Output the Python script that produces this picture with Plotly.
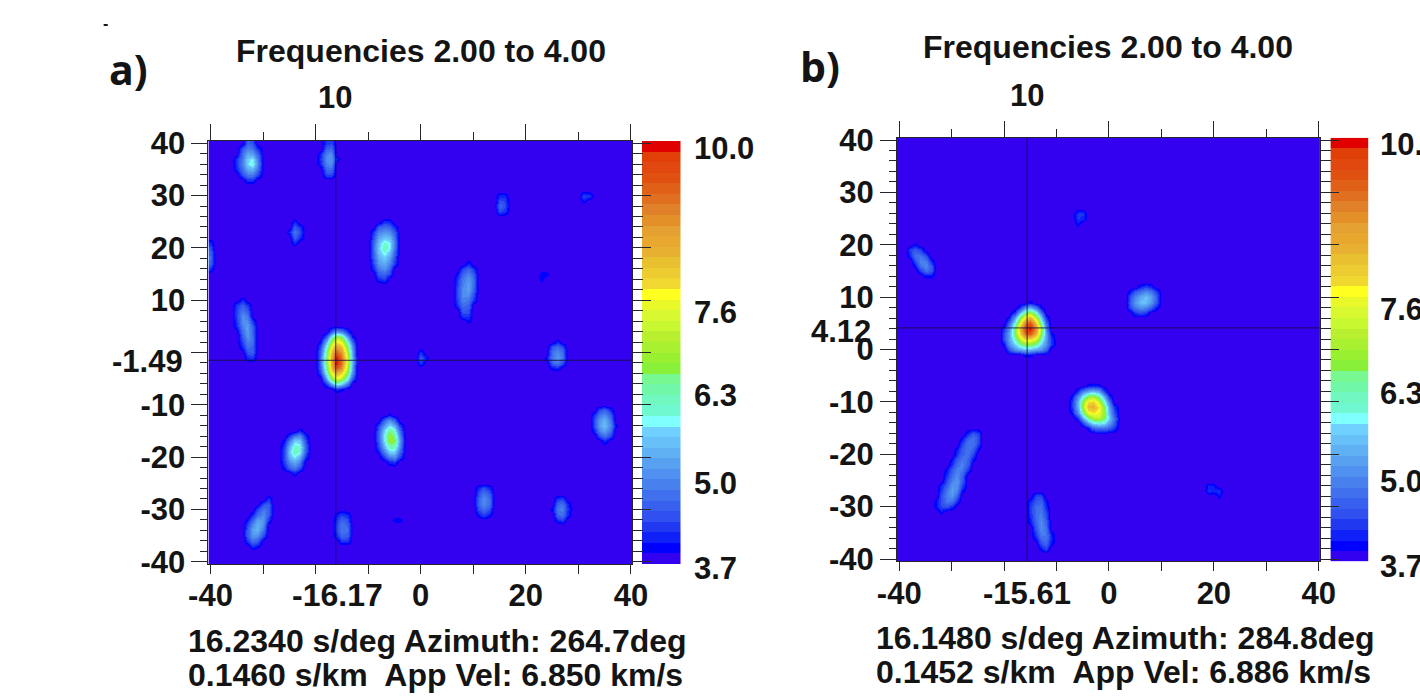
import numpy as np
import plotly.graph_objects as go

# ---------- values ----------
band_colors = ["#3400f0","#0000ff","#1020f8","#2038f0","#3050f0","#3860ee","#4070ee","#4880ee","#5090f0","#58a0f0",
               "#60b0f4","#68c0f8","#70d0ff","#80ffff","#70f8d0","#70f8c0","#70f8a8","#78f890","#88f038","#98f030",
               "#a8f030","#b8f030","#c8f830","#d8f830","#e8f828","#ffff20","#f0d830","#eccc30","#e8c030","#e8b030",
               "#e8a830","#e4a030","#e49028","#e08028","#e07020","#e06018","#e05010","#e04810","#e04008","#e00000"]
z_min = 3.7
z_max = 10.0
grid_x = list(range(-40, 41))
grid_y = list(range(40, -41, -1))
axis_ticks = [-40, -30, -20, -10, 0, 10, 20, 30, 40]
bar_tick_labels = ["10.0", "7.6", "6.3", "5.0", "3.7"]
title_text = "Frequencies 2.00 to 4.00"
top_label = "10"

left_labels_a = ["-40", "-30", "-20", "-10", "", "10", "20", "30", "40"]
left_labels_b = ["-40", "-30", "-20", "-10", "0", "10", "20", "30", "40"]
bottom_labels = ["-40", "", "", "", "0", "", "20", "", "40"]
cross_a = (-16.17, -1.49)
cross_b = (-15.61, 4.12)
stats_a = ["16.2340 s/deg Azimuth: 264.7deg", "0.1460 s/km  App Vel: 6.850 km/s"]
stats_b = ["16.1480 s/deg Azimuth: 284.8deg", "0.1452 s/km  App Vel: 6.886 km/s"]

# Patches of cell values (tenths), as (first x, first y, rows going down). Everything else is 3.7.
patches_a = [
 (-35, 40, [[37,37,46,44,37,37],[37,45,49,48,42,37],[37,47,53,52,46,37],[42,48,56,58,49,37],[42,49,57,60,50,37],[41,47,53,54,48,37],[37,44,48,48,43,37],[37,37,42,42,37,37]]),
 (-19, 40, [[37,42,43,37],[37,46,47,37],[41,49,50,37],[42,50,51,41],[41,49,50,37],[37,47,47,37],[37,43,43,37]]),
 (-25, 25, [[37,41,37],[37,45,42],[41,48,44],[37,46,42],[37,41,37]]),
 (-40, 21, [[41,37],[44,37],[46,37],[47,37],[45,37],[41,37]]),
 (-10, 25, [[37,37,37,42,41,37,37],[37,37,45,47,46,41,37],[37,42,49,51,50,45,37],[37,44,52,55,54,47,37],[37,46,55,60,58,49,37],[37,47,56,62,58,48,37],[37,46,55,59,55,46,37],[37,45,53,56,52,44,37],[37,43,51,53,49,42,37],[37,41,48,50,46,37,37],[37,37,45,46,43,37,37],[37,37,41,43,37,37,37]]),
 (14, 31, [[37,37,37,37],[37,41,41,37],[37,44,43,37],[37,46,44,37],[37,44,42,37],[37,37,37,37]]),
 (30, 31, [[37,37,37,37],[37,43,42,37],[37,40,37,37]]),
 (6, 17, [[37,37,37,41,37,37],[37,37,43,46,42,37],[37,40,46,49,45,37],[37,42,48,51,47,37],[37,43,49,52,47,37],[37,44,50,52,46,37],[37,44,50,50,44,37],[37,43,49,48,42,37],[37,42,47,46,37,37],[37,37,45,44,37,37],[37,37,42,42,37,37],[37,37,37,40,37,37]]),
 (22, 15, [[37,40,40,37],[37,40,37,37]]),
 (-36, 10, [[37,37,41,37,37,37,37],[37,42,45,42,37,37,37],[37,43,48,45,37,37,37],[37,43,50,48,37,37,37],[37,42,50,50,42,37,37],[37,41,49,52,45,37,37],[37,37,47,52,46,37,37],[37,37,45,51,47,37,37],[37,37,43,49,47,37,37],[37,37,41,47,46,37,37],[37,37,37,44,45,37,37],[37,37,37,41,42,37,37]]),
 (-20, 5, [[37,37,37,37,37,37,37,37,37],[37,37,37,46,52,50,42,37,37],[37,37,46,60,70,66,52,40,37],[37,40,54,70,78,75,60,46,37],[37,44,60,76,86,82,66,50,37],[37,46,64,82,94,88,70,52,37],[37,47,66,84,100,92,72,53,37],[37,47,66,84,100,92,72,53,37],[37,46,64,82,94,88,70,52,37],[37,43,60,76,84,80,66,50,37],[37,37,52,66,74,70,58,44,37],[37,37,42,52,60,56,48,37,37],[37,37,37,37,42,40,37,37,37]]),
 (-1, 1, [[37,37,37],[37,42,37],[37,45,40],[37,42,37],[37,37,37]]),
 (24, 2, [[37,37,41,37,37],[37,45,47,44,37],[37,48,50,47,37],[40,48,51,48,37],[37,46,48,44,37],[37,40,41,37,37]]),
 (32, -10, [[37,37,37,37,37,37],[37,37,44,46,41,37],[37,42,48,50,45,37],[37,44,51,54,48,37],[37,44,52,55,49,40],[37,41,49,52,47,37],[37,37,44,47,43,37],[37,37,37,41,37,37]]),
 (-9, -12, [[37,37,37,40,37,37,37],[37,37,46,50,45,37,37],[37,43,52,58,54,43,37],[37,45,57,65,60,47,37],[37,46,59,68,64,50,37],[37,45,58,68,66,52,37],[37,43,54,62,62,50,37],[37,40,49,56,56,47,37],[37,37,43,49,50,43,37],[37,37,37,41,42,37,37]]),
 (-27, -15, [[37,37,37,37,41,37],[37,37,42,48,50,41],[37,40,49,56,56,44],[37,43,54,61,60,46],[37,44,56,62,59,45],[37,44,54,58,54,42],[37,43,50,53,49,37],[37,40,46,48,44,37],[37,37,37,41,37,37]]),
 (-35, -27, [[37,37,37,37,37,37,37,37],[37,37,37,37,37,37,42,37],[37,37,37,37,37,44,45,37],[37,37,37,37,43,48,46,37],[37,37,37,41,47,50,45,37],[37,37,40,46,52,51,42,37],[37,37,43,50,54,50,37,37],[37,37,45,52,54,47,37,37],[37,37,45,51,50,43,37,37],[37,37,42,47,45,37,37,37],[37,37,37,42,40,37,37,37]]),
 (-17, -30, [[37,37,37,37,37],[37,40,43,41,37],[37,42,46,44,37],[37,43,48,46,37],[37,43,48,47,37],[37,41,46,45,37],[37,37,42,42,37],[37,37,37,37,37]]),
 (-6, -31, [[37,37,37,37],[37,40,40,37],[37,37,37,37]]),
 (10, -25, [[37,37,37,37,37],[37,41,44,41,37],[37,44,48,45,37],[37,46,50,47,37],[37,46,50,47,37],[37,44,47,44,37],[37,40,43,40,37],[37,37,37,37,37]]),
 (25, -27, [[37,37,37,37],[37,42,43,37],[37,46,47,41],[40,48,49,42],[37,46,47,41],[37,41,43,37],[37,37,37,37]]),
]
patches_b = [
 (-21, 9, [[37,37,37,37,37,37,40,37,37,37,37],[37,37,37,37,42,50,54,48,40,37,37],[37,37,37,42,54,64,70,60,48,37,37],[37,37,40,52,66,78,84,72,56,42,37],[37,37,46,60,76,90,96,82,64,47,37],[37,42,50,66,82,96,100,88,70,50,37],[37,44,52,66,80,92,94,84,68,52,40],[37,44,52,62,72,80,80,74,62,52,42],[37,40,50,56,62,66,66,62,56,50,42],[37,37,44,50,52,54,54,52,50,46,37],[37,37,37,37,37,40,40,37,37,37,37]]),
 (3, 12, [[37,37,37,41,43,41,37,37],[37,40,45,48,50,48,43,37],[37,44,49,53,55,52,46,37],[37,45,51,55,55,51,45,37],[37,43,48,50,49,45,40,37],[37,37,42,44,42,37,37,37]]),
 (-39, 20, [[37,37,40,37,37,37,37],[37,43,45,43,37,37,37],[37,41,47,48,44,37,37],[37,37,44,49,48,41,37],[37,37,40,47,50,45,37],[37,37,37,42,47,45,37],[37,37,37,37,40,40,37]]),
 (-8, 27, [[37,37,37,37,37],[37,37,42,42,37],[37,37,42,41,37],[37,37,40,37,37]]),
 (-8, -7, [[37,37,37,37,40,41,40,37,37,37,37],[37,37,42,50,54,56,53,44,37,37,37],[37,40,50,60,68,70,64,54,42,37,37],[37,42,54,68,78,80,72,60,48,37,37],[37,42,54,70,82,84,78,66,52,42,37],[37,40,50,64,76,78,76,68,54,44,37],[37,37,42,54,64,70,72,66,56,47,37],[37,37,37,44,52,58,60,58,52,46,37],[37,37,37,37,40,46,48,48,46,42,37],[37,37,37,37,37,37,37,37,37,37,37]]),
 (-35, -15, [[37,37,37,37,37,37,37,37,37,37,37,37],[37,37,37,37,37,37,37,37,41,45,43,37],[37,37,37,37,37,37,37,40,46,48,44,37],[37,37,37,37,37,37,37,43,48,48,43,37],[37,37,37,37,37,37,40,45,48,46,40,37],[37,37,37,37,37,37,42,46,47,43,37,37],[37,37,37,37,37,40,45,48,46,40,37,37],[37,37,37,37,37,42,47,49,45,37,37,37],[37,37,37,37,40,45,49,48,42,37,37,37],[37,37,37,37,42,47,50,46,37,37,37,37],[37,37,37,37,44,49,51,45,37,37,37,37],[37,37,37,41,46,51,51,43,37,37,37,37],[37,37,37,42,48,52,49,40,37,37,37,37],[37,37,37,44,49,51,46,37,37,37,37,37],[37,37,40,44,48,47,41,37,37,37,37,37],[37,37,40,43,44,41,37,37,37,37,37,37],[37,37,37,40,37,37,37,37,37,37,37,37]]),
 (-16, -27, [[37,37,37,37,37,37,37],[37,37,43,43,37,37,37],[37,41,45,46,40,37,37],[37,42,47,47,41,37,37],[37,42,47,48,43,37,37],[37,41,47,49,44,37,37],[37,40,46,50,46,37,37],[37,37,45,50,47,37,37],[37,37,43,49,48,40,37],[37,37,41,47,48,41,37],[37,37,37,44,46,40,37],[37,37,37,40,43,37,37],[37,37,37,37,37,37,37]]),
 (18, -25, [[37,37,37,37,37],[37,41,40,37,37],[37,42,41,42,37],[37,37,37,40,37]]),
]

# ---------- build ----------
W, H = 1420, 700
def fx(px): return px / W
def fy(py): return 1 - py / H

def make_grid(patches):
    z = np.full((len(grid_y), len(grid_x)), 37.0)
    for x0, y0, rows in patches:
        for r, row in enumerate(rows):
            for c, v in enumerate(row):
                z[40 - (y0 - r), x0 + c + 40] = v
    return z / 10.0

n = len(band_colors)
colorscale = []
for i, c in enumerate(band_colors):
    colorscale += [[i / n, c], [(i + 1) / n, c]]
band_centres = [z_min + (i + 0.5) * (z_max - z_min) / n for i in range(n)]

FONT = "Liberation Sans"
INK = "#141414"
LINE = "#26262e"

fig = go.Figure()
annots = []
def text(px, py, s, size=31, anchor="left", family=FONT, weight=700):
    annots.append(dict(x=px, y=py, xref="x7", yref="y7", text=s, showarrow=False,
                       xanchor=anchor, yanchor="middle", align=anchor,
                       font=dict(family=family, size=size, color=INK, weight=weight)))

layout = {}
def panel(base, patches, frame, xr, yr, bar, cross, left_labels):
    b, m, o = base, base + 1, base + 2
    nm = lambda k: "" if k == 1 else str(k)
    L, R, T, B = frame
    fig.add_trace(go.Heatmap(z=[[v] for v in band_centres], x=[0], y=band_centres, zmin=z_min, zmax=z_max,
                             colorscale=colorscale, showscale=False, hoverinfo="skip",
                             xaxis="x" + nm(b), yaxis="y" + nm(b)))
    layout["xaxis" + nm(b)] = dict(domain=[fx(bar[0]), fx(bar[1])], anchor="y" + nm(b), visible=False)
    layout["yaxis" + nm(b)] = dict(domain=[fy(B), fy(T)], anchor="x" + nm(b), range=[z_min, z_max], visible=False)
    fig.add_trace(go.Heatmap(z=make_grid(patches), x=grid_x, y=grid_y, zmin=z_min, zmax=z_max, zsmooth="best",
                             colorscale=colorscale, showscale=False, hoverinfo="skip",
                             xaxis="x" + nm(m), yaxis="y" + nm(m)))
    for xs, ys in (([cross[0], cross[0]], yr), (xr, [cross[1], cross[1]])):
        fig.add_trace(go.Scatter(x=list(xs), y=list(ys), mode="lines", line=dict(color="rgba(20,15,60,0.85)", width=1),
                                 hoverinfo="skip", showlegend=False, xaxis="x" + nm(m), yaxis="y" + nm(m)))
    tickfont = dict(family=FONT, size=31, color=INK, weight=700)
    layout["xaxis" + nm(m)] = dict(domain=[fx(L), fx(R)], anchor="y" + nm(m), range=list(xr), showgrid=False, zeroline=False,
                                   showline=True, mirror=True, linecolor=LINE, linewidth=1, ticks="outside", ticklen=9,
                                   tickcolor=LINE, tickmode="array", tickvals=axis_ticks, ticktext=bottom_labels,
                                   tickangle=0, tickfont=tickfont, ticklabelstandoff=-5)
    layout["yaxis" + nm(m)] = dict(domain=[fy(B), fy(T)], anchor="x" + nm(m), range=list(yr), showgrid=False, zeroline=False,
                                   showline=True, mirror=True, linecolor=LINE, linewidth=1, ticks="outside", ticklen=16,
                                   tickcolor=LINE, tickmode="array", tickvals=axis_ticks, ticktext=left_labels,
                                   tickfont=tickfont, ticklabelstandoff=0,
                                   minor=dict(ticks="outside", ticklen=7, tick0=0, dtick=2, tickcolor=LINE, showgrid=False))
    fig.add_trace(go.Scatter(x=[cross[0]], y=[cross[1]], mode="markers", marker=dict(opacity=0), hoverinfo="skip",
                             showlegend=False, xaxis="x" + nm(o), yaxis="y" + nm(m)))
    layout["xaxis" + nm(o)] = dict(overlaying="x" + nm(m), anchor="y" + nm(m), side="top", range=list(xr), showgrid=False,
                                   zeroline=False, ticks="outside", ticklen=16, tickcolor=LINE, tickmode="array",
                                   tickvals=axis_ticks[::2], showticklabels=False,
                                   minor=dict(ticks="outside", ticklen=8, tick0=0, dtick=10, tickcolor=LINE, showgrid=False))
    fig.add_trace(go.Scatter(x=[cross[0]], y=[cross[1]], mode="markers", marker=dict(opacity=0), hoverinfo="skip",
                             showlegend=False, xaxis="x" + nm(m), yaxis="y" + nm(o)))
    layout["yaxis" + nm(o)] = dict(overlaying="y" + nm(m), anchor="x" + nm(m), side="right", range=list(yr), showgrid=False,
                                   zeroline=False, ticks="outside", ticklen=18, tickcolor=LINE, tickmode="array",
                                   tickvals=axis_ticks, showticklabels=False,
                                   minor=dict(ticks="outside", ticklen=10, tick0=0, dtick=2, tickcolor=LINE, showgrid=False))

panel(1, patches_a, (208.4, 632, 141, 564), (-40.4, 40.2), (-40.44, 40.44), (642, 680.5), cross_a, left_labels_a)
panel(4, patches_b, (896.9, 1320.3, 137.7, 561.3), (-40.45, 40.3), (-40.44, 40.44), (1330.4, 1368.5), cross_b, left_labels_b)

# full-canvas helper axes, in pixels, carrying the free texts
fig.add_trace(go.Scatter(x=[0], y=[0], mode="markers", marker=dict(opacity=0), hoverinfo="skip",
                         showlegend=False, xaxis="x7", yaxis="y7"))
layout["xaxis7"] = dict(domain=[0, 1], anchor="y7", range=[0, W], visible=False)
layout["yaxis7"] = dict(domain=[0, 1], anchor="x7", range=[H, 0], visible=False)

# panel a texts
text(420.5, 51, title_text, size=32, anchor="center")
text(335, 97, top_label, anchor="center")
text(107, 69, "a)", size=41, family="Open Sans")
text(101, 23, "-", size=16)
text(337, 595, "%.2f" % cross_a[0], size=32, anchor="center")
text(185, 361, "%.2f" % cross_a[1], anchor="right")
text(186, 641, stats_a[0], size=32)
text(186, 675, stats_a[1], size=32)
for lab, py in zip(bar_tick_labels, (148, 312, 395, 483, 568)):
    text(692, py, lab)
# panel b texts
text(1108, 47, title_text, size=32, anchor="center")
text(1027, 95, top_label, anchor="center")
text(798, 66, "b)", size=41, family="Open Sans")
text(1027, 593, "%.2f" % cross_b[0], anchor="center")
text(873, 331, "%.2f" % cross_b[1], anchor="right")
text(874, 638, stats_b[0], size=32)
text(874, 672, stats_b[1], size=32)
for lab, py in zip(bar_tick_labels, (144, 309, 393, 481, 566)):
    text(1378, py, lab)

fig.update_layout(template="none", width=W, height=H, margin=dict(l=0, r=0, t=0, b=0), paper_bgcolor="white", plot_bgcolor="rgba(0,0,0,0)",
                  showlegend=False, annotations=annots, **layout)
fig.write_html("out.html", config=dict(displayModeBar=False),
               post_script="document.body.style.margin='0';document.documentElement.style.overflow='hidden';")
